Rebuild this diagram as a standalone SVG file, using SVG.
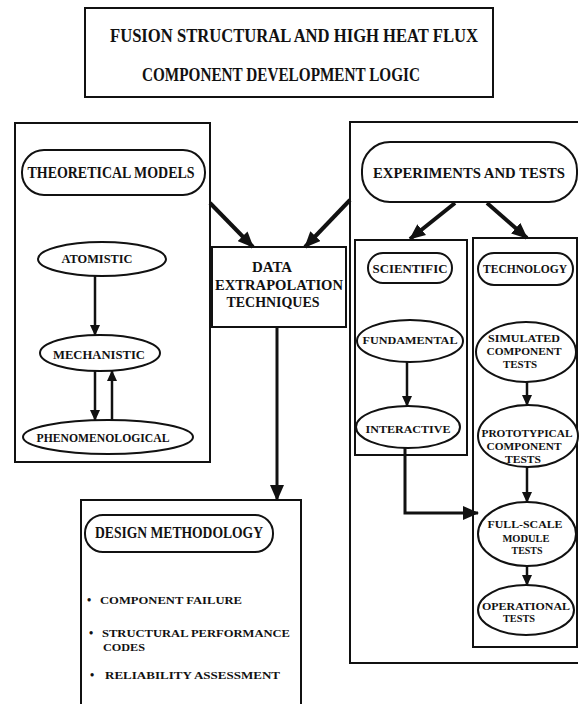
<svg xmlns="http://www.w3.org/2000/svg" width="580" height="704" viewBox="0 0 580 704">
<style>
.box{fill:none;stroke:#111;stroke-width:2}
.shape{fill:#fff;stroke:#111;stroke-width:2}
.t{font-family:"Liberation Serif","Times New Roman",serif;font-weight:bold;fill:#111}
.con{fill:none;stroke:#111}
</style>
<defs>
<marker id="big" markerUnits="userSpaceOnUse" markerWidth="16" markerHeight="14" refX="15" refY="7" orient="auto"><path d="M0,0 L16,7 L0,14 Z" fill="#111"/></marker>
<marker id="small" markerUnits="userSpaceOnUse" markerWidth="11" markerHeight="10" refX="10" refY="5" orient="auto"><path d="M0,0 L11,5 L0,10 Z" fill="#111"/></marker>
</defs>
<rect width="580" height="704" fill="#fff"/>
<g id="title">
<rect class="box" x="85" y="8" width="408" height="89"/>
<text class="t" x="294" y="42" font-size="19" text-anchor="middle" textLength="368" lengthAdjust="spacingAndGlyphs">FUSION STRUCTURAL AND HIGH HEAT FLUX</text>
<text class="t" x="281" y="81" font-size="19" text-anchor="middle" textLength="278" lengthAdjust="spacingAndGlyphs">COMPONENT DEVELOPMENT LOGIC</text>
</g>
<g id="theory-panel">
<rect class="box" x="15" y="123" width="195" height="339"/>
</g>
<g id="theoretical-models">
<rect class="shape" x="22" y="150" width="183" height="45" rx="22"/>
<text class="t" x="111" y="178" font-size="17" text-anchor="middle" textLength="167" lengthAdjust="spacingAndGlyphs">THEORETICAL MODELS</text>
</g>
<g id="atomistic">
<ellipse class="shape" cx="102" cy="259" rx="64" ry="17"/>
<text class="t" x="97" y="263" font-size="12" text-anchor="middle" textLength="71" lengthAdjust="spacingAndGlyphs">ATOMISTIC</text>
</g>
<g id="mechanistic">
<ellipse class="shape" cx="100" cy="353" rx="60" ry="18"/>
<text class="t" x="99" y="359" font-size="12" text-anchor="middle" textLength="92" lengthAdjust="spacingAndGlyphs">MECHANISTIC</text>
</g>
<g id="phenomenological">
<ellipse class="shape" cx="108" cy="437" rx="85" ry="17"/>
<text class="t" x="103" y="442" font-size="12" text-anchor="middle" textLength="133" lengthAdjust="spacingAndGlyphs">PHENOMENOLOGICAL</text>
</g>
<g id="data-extrapolation">
<rect class="box" x="212" y="247" width="134" height="80"/>
<text class="t" x="272" y="272" font-size="15" text-anchor="middle" textLength="40" lengthAdjust="spacingAndGlyphs">DATA</text>
<text class="t" x="279" y="290" font-size="15" text-anchor="middle" textLength="128" lengthAdjust="spacingAndGlyphs">EXTRAPOLATION</text>
<text class="t" x="273" y="307" font-size="15" text-anchor="middle" textLength="93" lengthAdjust="spacingAndGlyphs">TECHNIQUES</text>
</g>
<g id="experiments-panel">
<path class="box" d="M578,122 L350,122 L350,663 L578,663"/>
</g>
<g id="experiments-and-tests">
<rect class="shape" x="362" y="142" width="215" height="60" rx="28"/>
<text class="t" x="469" y="178" font-size="15" text-anchor="middle" textLength="192" lengthAdjust="spacingAndGlyphs">EXPERIMENTS AND TESTS</text>
</g>
<g id="scientific-panel">
<rect class="box" x="355" y="240" width="112" height="215"/>
</g>
<g id="scientific">
<rect class="shape" x="368" y="253" width="84" height="30" rx="15"/>
<text class="t" x="410" y="273" font-size="12" text-anchor="middle" textLength="75" lengthAdjust="spacingAndGlyphs">SCIENTIFIC</text>
</g>
<g id="technology-panel">
<rect class="box" x="473" y="238" width="104" height="409"/>
</g>
<g id="technology">
<rect class="shape" x="478" y="253" width="95" height="32" rx="16"/>
<text class="t" x="525" y="273" font-size="12" text-anchor="middle" textLength="84" lengthAdjust="spacingAndGlyphs">TECHNOLOGY</text>
</g>
<g id="fundamental">
<ellipse class="shape" cx="410" cy="341" rx="53" ry="21"/>
<text class="t" x="410" y="344" font-size="11" text-anchor="middle" textLength="95" lengthAdjust="spacingAndGlyphs">FUNDAMENTAL</text>
</g>
<g id="interactive">
<ellipse class="shape" cx="408" cy="427" rx="52" ry="21"/>
<text class="t" x="408" y="433" font-size="11" text-anchor="middle" textLength="85" lengthAdjust="spacingAndGlyphs">INTERACTIVE</text>
</g>
<g id="simulated">
<ellipse class="shape" cx="526" cy="352" rx="50" ry="30"/>
<text class="t" x="524" y="342" font-size="11" text-anchor="middle" textLength="72" lengthAdjust="spacingAndGlyphs">SIMULATED</text>
<text class="t" x="524" y="355" font-size="11" text-anchor="middle" textLength="75" lengthAdjust="spacingAndGlyphs">COMPONENT</text>
<text class="t" x="520" y="368" font-size="11" text-anchor="middle" textLength="34" lengthAdjust="spacingAndGlyphs">TESTS</text>
</g>
<g id="prototypical">
<ellipse class="shape" cx="528" cy="436" rx="50" ry="31"/>
<text class="t" x="527" y="437" font-size="11" text-anchor="middle" textLength="91" lengthAdjust="spacingAndGlyphs">PROTOTYPICAL</text>
<text class="t" x="524" y="450" font-size="11" text-anchor="middle" textLength="75" lengthAdjust="spacingAndGlyphs">COMPONENT</text>
<text class="t" x="523" y="463" font-size="11" text-anchor="middle" textLength="36" lengthAdjust="spacingAndGlyphs">TESTS</text>
</g>
<g id="full-scale">
<ellipse class="shape" cx="527" cy="534" rx="49" ry="32"/>
<text class="t" x="525" y="528" font-size="11" text-anchor="middle" textLength="75" lengthAdjust="spacingAndGlyphs">FULL-SCALE</text>
<text class="t" x="526" y="542" font-size="11" text-anchor="middle" textLength="47" lengthAdjust="spacingAndGlyphs">MODULE</text>
<text class="t" x="527" y="554" font-size="11" text-anchor="middle" textLength="31" lengthAdjust="spacingAndGlyphs">TESTS</text>
</g>
<g id="operational">
<ellipse class="shape" cx="526" cy="610" rx="48" ry="25"/>
<text class="t" x="526" y="610" font-size="11" text-anchor="middle" textLength="88" lengthAdjust="spacingAndGlyphs">OPERATIONAL</text>
<text class="t" x="519" y="622" font-size="11" text-anchor="middle" textLength="32" lengthAdjust="spacingAndGlyphs">TESTS</text>
</g>
<g id="design-methodology">
<path class="box" d="M81,704 L81,500 L301,500 L301,704"/>
<rect class="shape" x="85" y="515" width="188" height="37" rx="18"/>
<text class="t" x="179" y="538" font-size="16" text-anchor="middle" textLength="168" lengthAdjust="spacingAndGlyphs">DESIGN METHODOLOGY</text>
<text class="t" x="87" y="604" font-size="12">•</text>
<text class="t" x="100" y="604" font-size="11" textLength="142" lengthAdjust="spacingAndGlyphs">COMPONENT  FAILURE</text>
<text class="t" x="89" y="637" font-size="12">•</text>
<text class="t" x="102" y="637" font-size="11" textLength="188" lengthAdjust="spacingAndGlyphs">STRUCTURAL  PERFORMANCE</text>
<text class="t" x="103" y="651" font-size="11" textLength="42" lengthAdjust="spacingAndGlyphs">CODES</text>
<text class="t" x="90" y="679" font-size="12">•</text>
<text class="t" x="105" y="679" font-size="11" textLength="175" lengthAdjust="spacingAndGlyphs">RELIABILITY  ASSESSMENT</text>
</g>
<g id="connectors">
<line class="con" x1="95" y1="276" x2="95" y2="335" stroke-width="2.5" marker-end="url(#small)"/>
<line class="con" x1="95" y1="371" x2="95" y2="420" stroke-width="2.5" marker-end="url(#small)"/>
<line class="con" x1="112" y1="420" x2="112" y2="371" stroke-width="2.5" marker-end="url(#small)"/>
<line class="con" x1="210" y1="203" x2="253" y2="247" stroke-width="4" marker-end="url(#big)"/>
<line class="con" x1="350" y1="200" x2="305" y2="247" stroke-width="4" marker-end="url(#big)"/>
<line class="con" x1="455" y1="203" x2="410" y2="239" stroke-width="4" marker-end="url(#big)"/>
<line class="con" x1="487" y1="203" x2="527" y2="238" stroke-width="4" marker-end="url(#big)"/>
<line class="con" x1="277" y1="327" x2="277" y2="500" stroke-width="3" marker-end="url(#big)"/>
<line class="con" x1="407" y1="362" x2="407" y2="406" stroke-width="2.5" marker-end="url(#small)"/>
<path class="con" d="M405,448 L405,513 L478,513" stroke-width="3" marker-end="url(#big)"/>
<line class="con" x1="527" y1="382" x2="527" y2="405" stroke-width="2.5" marker-end="url(#small)"/>
<line class="con" x1="527" y1="467" x2="527" y2="502" stroke-width="2.5" marker-end="url(#small)"/>
<line class="con" x1="527" y1="566" x2="527" y2="585" stroke-width="2.5" marker-end="url(#small)"/>
</g>
</svg>
